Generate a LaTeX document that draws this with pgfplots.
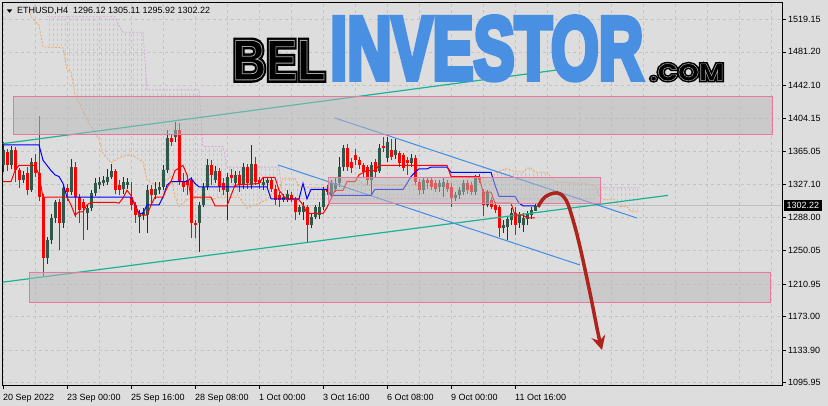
\documentclass[border=0pt]{standalone}
\usepackage{fontspec}
\setmainfont{Liberation Sans}
\newfontfamily\wmfont{Liberation Sans}
\newfontfamily\comfont{Poppins}
\usepackage{pgfplots}
\pgfplotsset{compat=1.18}
\usepackage{pgfplotstable}
\usetikzlibrary{patterns.meta,arrows.meta}

\definecolor{bg}{RGB}{221,221,221}
\definecolor{gridc}{RGB}{196,196,196}
\definecolor{bull}{RGB}{45,88,74}
\definecolor{bullwick}{RGB}{30,50,44}
\definecolor{bear}{RGB}{255,0,0}
\definecolor{tenkan}{RGB}{255,0,0}
\definecolor{kijun}{RGB}{0,0,255}
\definecolor{spanA}{RGB}{244,164,96}
\definecolor{spanB}{RGB}{214,168,214}
\definecolor{trendg}{RGB}{24,180,148}
\definecolor{chan}{RGB}{64,140,232}
\definecolor{zonefill}{RGB}{185,185,185}
\definecolor{zoneedge}{RGB}{232,120,158}
\definecolor{arrowred}{RGB}{172,36,26}
\definecolor{wmblue}{RGB}{74,144,226}
\definecolor{wmgray}{RGB}{165,165,165}
\definecolor{pricel}{RGB}{192,192,192}

% text drawn filled and stroked (heavier), or stroked only (outline)
\newcommand\heavytext[2]{\special{pdf:literal direct 2 Tr #1 w}#2\special{pdf:literal direct 0 Tr}}
\newcommand\outlinetext[2]{\special{pdf:literal direct 1 Tr #1 w}#2\special{pdf:literal direct 0 Tr}}

\tikzdeclarepattern{name=vdash, type=uncolored,
  bounding box={(0pt,0pt) and (4pt,5pt)}, tile size={(4pt,5pt)},
  code={\draw[line width=0.6pt] (2pt,0pt) -- (2pt,3pt);}}

% bullish candles: index, open, high, low, close
\pgfplotstableread{
i o h l c
0 1349 1376 1341 1367
2 1349 1372 1345 1367
5 1332 1342 1328 1338
7 1320 1358 1318 1353
11 1241 1266 1234 1262
12 1262 1292 1258 1288
13 1288 1309 1282 1306
15 1282 1327 1276 1323
17 1318 1357 1314 1347
21 1293 1303 1274 1299
22 1299 1320 1296 1317
23 1317 1334 1313 1328
24 1326 1336 1322 1330
25 1328 1337 1325 1332
26 1330 1345 1326 1336
27 1336 1351 1333 1342
30 1322 1335 1316 1330
31 1326 1334 1322 1330
34 1289 1297 1270 1293
35 1291 1299 1285 1295
36 1291 1326 1270 1320
38 1314 1330 1310 1322
39 1320 1330 1316 1324
40 1324 1349 1320 1344
41 1344 1390 1340 1381
43 1382 1400 1376 1390
49 1282 1306 1248 1303
50 1303 1328 1300 1324
51 1324 1357 1320 1349
53 1332 1348 1328 1342
56 1318 1340 1285 1336
58 1328 1342 1324 1338
60 1326 1352 1322 1347
62 1326 1373 1322 1351
65 1326 1334 1320 1330
66 1328 1336 1324 1332
70 1309 1316 1306 1312
71 1309 1320 1306 1316
74 1295 1303 1291 1300
75 1295 1306 1285 1302
77 1280 1293 1276 1289
78 1289 1303 1286 1300
79 1291 1306 1287 1300
80 1300 1324 1297 1320
82 1316 1332 1312 1328
83 1322 1334 1318 1328
84 1328 1359 1324 1347
85 1347 1373 1343 1369
92 1332 1353 1314 1349
94 1343 1374 1340 1369
96 1358 1382 1353 1376
98 1361 1380 1356 1367
102 1352 1362 1347 1358
105 1320 1336 1316 1332
109 1324 1332 1318 1328
110 1324 1334 1312 1330
113 1311 1318 1307 1314
114 1314 1324 1310 1320
115 1318 1332 1314 1328
118 1318 1338 1314 1336
121 1303 1320 1300 1318
125 1276 1285 1270 1280
126 1277 1290 1262 1286
127 1285 1299 1280 1293
129 1282 1295 1276 1291
130 1280 1293 1272 1288
131 1286 1296 1280 1292
132 1291 1300 1287 1297
133 1296.12 1305.11 1295.92 1302.22
}\bulltab

% bearish candles: index, open, high, low, close
\pgfplotstableread{
i o h l c
1 1365 1368 1343 1349
3 1367 1370 1330 1344
4 1344 1346 1323 1332
6 1340 1347 1314 1320
8 1353 1362 1336 1340
9 1340 1407 1308 1312
10 1312 1316 1219 1241
14 1306 1310 1250 1282
16 1323 1327 1308 1318
18 1347 1353 1289 1312
19 1312 1316 1282 1297
20 1306 1310 1262 1299
28 1342 1345 1316 1320
29 1326 1332 1314 1320
32 1312 1330 1297 1303
33 1303 1306 1282 1291
37 1322 1326 1303 1314
42 1381 1384 1372 1376
44 1390 1398 1326 1330
45 1330 1340 1318 1324
46 1332 1338 1314 1326
47 1332 1336 1264 1282
48 1282 1285 1264 1280
52 1349 1355 1326 1338
54 1342 1346 1318 1324
55 1328 1334 1314 1320
57 1338 1345 1328 1334
59 1338 1342 1318 1326
61 1347 1351 1322 1328
63 1351 1359 1326 1330
64 1332 1336 1322 1328
67 1332 1336 1318 1322
68 1322 1326 1303 1309
69 1314 1318 1300 1309
72 1314 1318 1306 1309
73 1309 1312 1285 1295
76 1300 1303 1260 1280
81 1322 1326 1314 1318
86 1369 1374 1343 1347
87 1353 1358 1340 1346
88 1361 1368 1350 1355
89 1355 1359 1345 1349
90 1349 1352 1336 1341
91 1347 1350 1326 1332
93 1353 1357 1336 1341
95 1372 1382 1365 1369
97 1367 1380 1355 1359
99 1363 1366 1347 1352
100 1361 1364 1343 1346
101 1355 1359 1338 1352
103 1358 1361 1326 1330
104 1330 1333 1314 1320
106 1332 1336 1322 1328
107 1332 1335 1320 1324
108 1328 1332 1318 1322
111 1328 1332 1318 1322
112 1324 1328 1300 1311
116 1328 1332 1316 1320
117 1326 1330 1314 1318
119 1336 1339 1328 1332
120 1318 1322 1290 1303
122 1309 1312 1298 1300
123 1303 1306 1294 1297
124 1300 1303 1266 1276
128 1293 1300 1268 1280
}\beartab

\begin{document}
\begin{tikzpicture}
\useasboundingbox (0pt,0pt) rectangle (828pt,406pt);
\fill[bg] (0pt,0pt) rectangle (828pt,406pt);
\begin{axis}[
  at={(2.5pt,21pt)}, anchor=south west,
  scale only axis, width=779.5pt, height=383pt,
  xmin=-0.125, xmax=194.75, ymin=1093.26, ymax=1539.30,
  axis line style={black, line width=0.8pt},
  xtick={0,16,32,48,64,80,96,112,128},
  xticklabels={20 Sep 2022, 23 Sep 00:00, 25 Sep 16:00, 28 Sep 08:00, 1 Oct 00:00, 3 Oct 16:00, 6 Oct 08:00, 9 Oct 00:00, 11 Oct 16:00},
  minor xtick={8,24,40,56,72,88,104,120,136,144,152,160,168,176,184,192},
  ytick={1095.95,1133.90,1173.00,1210.95,1250.05,1288.00,1327.10,1365.05,1404.15,1442.10,1481.20,1519.15},
  yticklabels={1095.95,1133.90,1173.00,1210.95,1250.05,1288.00,1327.10,1365.05,1404.15,1442.10,1481.20,1519.15},
  xtick pos=left, ytick pos=right, yticklabel pos=right,
  tick align=outside, major tick length=4pt, minor tick length=0pt,
  tick style={black, line width=0.6pt},
  grid=both,
  major grid style={gridc, dash pattern=on 3pt off 3pt, line width=0.6pt},
  minor grid style={gridc, dash pattern=on 3pt off 3pt, line width=0.6pt},
  xticklabel style={anchor=base west, inner sep=0pt, yshift=-12pt, font=\fontsize{9}{10}\selectfont},
  yticklabel style={anchor=west, inner sep=0pt, xshift=2pt, font=\fontsize{9}{10}\selectfont},
]
% Ichimoku cloud (hatched areas between span A and span B)
\addplot[draw=none, pattern={vdash}, pattern color=spanB] coordinates {
(11,1487) (15,1486) (16,1460) (17,1458) (18,1431) (19,1422) (21,1402) (23,1387) (24,1379) (25,1363) (27,1352) (29,1358) (31,1361) (33,1359) (35,1353) (36,1332) (38,1326) (40,1329) (42,1336) (43,1312) (44,1301) (46,1309) (48,1311) (52,1309) (54,1312) (59,1312) (61,1299) (63,1303) (66,1309) (67,1315) (69,1320) (69.5,1327)
(69.5,1328) (69,1347) (56,1347) (55,1371) (50,1371) (49,1437) (36,1437) (35,1504) (30,1504) (29,1512) (28,1522) (11,1522) (11,1487)};
\addplot[draw=none, pattern={vdash}, pattern color=spanA] coordinates {
(69.5,1327) (70,1334) (73,1334) (74,1324) (81,1323) (82,1332) (89,1332) (90,1326) (111,1326) (112,1330) (122,1330) (123,1340) (126,1346) (127,1343) (130,1341) (131,1346) (132,1346) (133,1341) (136,1341) (138,1330) (145,1328) (148,1326) (148.5,1320)
(148.5,1316.5) (148,1310) (70,1310) (69.5,1327)};
\addplot[draw=none, pattern={vdash}, pattern color=spanB] coordinates {
(148.5,1320) (149,1314) (150,1309) (153,1309) (154,1301) (156,1301) (157,1295) (159,1295)
(159,1323) (149,1323) (148.5,1316.5) (148.5,1320)};
\addplot[draw=spanA, dash pattern=on 2pt off 1.5pt, line width=0.8pt] coordinates {
(6.5,1530) (7,1522) (9,1512) (10,1487) (15,1486) (16,1460) (17,1458) (18,1431) (19,1422) (21,1402) (23,1387) (24,1379) (25,1363) (27,1352) (29,1358) (31,1361) (33,1359) (35,1353) (36,1332) (38,1326) (40,1329) (42,1336) (43,1312) (44,1301) (46,1309) (48,1311) (52,1309) (54,1312) (59,1312) (61,1299) (63,1303) (66,1309) (67,1315) (69,1320) (70,1334) (73,1334) (74,1324) (81,1323) (82,1332) (89,1332) (90,1326) (111,1326) (112,1330) (122,1330) (123,1340) (126,1346) (127,1343) (130,1341) (131,1346) (132,1346) (133,1341) (136,1341) (138,1330) (145,1328) (148,1326) (149,1314) (150,1309) (153,1309) (154,1301) (156,1301) (157,1295) (159,1295)};
\addplot[draw=spanB, dash pattern=on 2pt off 1.5pt, line width=0.8pt] coordinates {
(11,1522) (28,1522) (29,1512) (30,1504) (35,1504) (36,1437) (49,1437) (50,1371) (55,1371) (56,1347) (69,1347) (70,1310) (148,1310) (149,1323) (159,1323)};
% bid line
\addplot[pricel, line width=0.6pt] coordinates {(-1,1302.22) (196,1302.22)};
% candles: wicks then bodies
\addplot[draw=bullwick, line width=1pt, quiver={u=0, v=\thisrow{h}-\thisrow{l}}] table[x=i, y=l] {\bulltab};
\addplot[draw=bear, line width=1pt, quiver={u=0, v=\thisrow{h}-\thisrow{l}}] table[x=i, y=l] {\beartab};
\addplot[draw=bull, line width=3pt, quiver={u=0, v=\thisrow{c}-\thisrow{o}}] table[x=i, y=o] {\bulltab};
\addplot[draw=bear, line width=3pt, quiver={u=0, v=\thisrow{c}-\thisrow{o}}] table[x=i, y=o] {\beartab};
% trend lines
\addplot[trendg, line width=1.2pt] coordinates {(-0.75,1373.9) (138.5,1460.1)};
\addplot[trendg, line width=1.2pt] coordinates {(-0.75,1212.6) (166.25,1314.1)};
\addplot[chan, line width=1pt] coordinates {(83,1404.2) (158.5,1287.7)};
\addplot[chan, line width=1pt] coordinates {(68.75,1349.5) (144.25,1233.0)};
% Kijun
\addplot[kijun, line width=1pt] coordinates {
(0,1373) (9,1373) (10,1355) (11,1349) (12,1343) (13,1338) (14,1336) (15,1328) (16,1312) (32,1312) (33,1303) (34,1293) (35,1293) (36,1303) (39,1303) (40,1312) (41,1326) (42,1330) (46,1330) (47,1334) (48,1328) (49,1324) (66,1324) (67,1310) (74,1310) (75,1328) (76,1310) (77,1321) (81,1321) (82,1314) (92,1314) (93,1321) (100,1321) (101,1328) (102,1336) (103,1341) (104,1345) (106,1345) (107,1347) (111,1347) (112,1341) (122,1341) (123,1326) (124,1313) (128,1313) (129,1305) (130,1302) (133,1302)};
% Tenkan
\addplot[tenkan, line width=1pt] coordinates {
(0,1330) (2,1330) (3,1343) (4,1349) (8,1349) (9,1338) (10,1312) (16,1312) (17,1303) (18,1291) (19,1295) (20,1295) (21,1303) (22,1306) (28,1306) (29,1305) (30,1311) (31,1320) (32,1314) (33,1303) (34,1291) (36,1291) (37,1303) (38,1312) (40,1312) (41,1323) (42,1330) (43,1343) (45,1349) (46,1338) (47,1312) (52,1312) (53,1302) (56,1302) (57,1314) (58,1326) (64,1328) (65,1335) (68,1335) (69,1320) (71,1309) (74,1309) (75,1303) (76,1293) (80,1293) (81,1300) (82,1310) (83,1320) (85,1320) (86,1330) (88,1330) (89,1338) (91,1343) (93,1343) (94,1349) (111,1349) (112,1336) (119,1336) (120,1318) (122,1318) (123,1305) (127,1305) (128,1291) (130,1291) (131,1288) (133,1288)};
% zones
\addplot[fill=zonefill, fill opacity=0.5, draw=zoneedge, line width=0.8pt] coordinates {(2.5,1385.6) (192.25,1385.6) (192.25,1428.9) (2.5,1428.9) (2.5,1385.6)};
\addplot[fill=zonefill, fill opacity=0.5, draw=zoneedge, line width=0.8pt] coordinates {(6.5,1190.0) (191.75,1190.0) (191.75,1224.9) (6.5,1224.9) (6.5,1190.0)};
\addplot[fill=zonefill, fill opacity=0.5, draw=zoneedge, line width=0.8pt] coordinates {(81.25,1305.2) (149.25,1305.2) (149.25,1335.5) (81.25,1335.5) (81.25,1305.2)};
% forecast arrow
\addplot[arrowred, line width=3.5pt, smooth, tension=0.6, -{Stealth[length=14pt, width=14pt]}] coordinates {
(133.75,1300.6) (135.5,1312.2) (138.5,1316.9) (140.75,1308.7) (142.5,1285.4) (144.25,1254.0) (146.75,1200.4) (148.75,1153.8) (149.75,1134.0)};
\end{axis}
% watermark: BEL (black with inner grey outline)
\node[anchor=south west, inner sep=0pt, text=black] at (232.3pt,325.9pt) {\resizebox{93pt}{39.5pt}{\wmfont\bfseries\heavytext{1.0}{BEL}}};
\node[anchor=south west, inner sep=0pt, text=wmgray] at (232.3pt,325.9pt) {\resizebox{93pt}{39.5pt}{\wmfont\bfseries\outlinetext{0.15}{BEL}}};
% INVESTOR (heavy blue)
\node[anchor=south west, inner sep=0pt, text=wmblue] at (330pt,326pt) {\resizebox{313pt}{62pt}{\wmfont\bfseries\heavytext{0.65}{INVESTOR}}};
% .COM (black with inner grey outline)
\node[anchor=south west, inner sep=0pt, text=black] at (649.6pt,324.9pt) {\resizebox{74pt}{17.2pt}{\comfont\bfseries\heavytext{1.4}{.COM}}};
\node[anchor=south west, inner sep=0pt, text=wmgray] at (649.6pt,324.9pt) {\resizebox{74pt}{17.2pt}{\comfont\bfseries\outlinetext{0.2}{.COM}}};
% header
\fill[black] (6.7pt,396.7pt) -- (12.3pt,396.7pt) -- (9.5pt,393.2pt) -- cycle;
\node[anchor=base west, inner sep=0pt, font=\fontsize{9}{10}\selectfont] at (17pt,392pt) {ETHUSD,H4\hspace{5pt}1296.12 1305.11 1295.92 1302.22};
% current price label
\node[fill=black, text=white, inner xsep=2.5pt, inner ysep=2.3pt, anchor=west, font=\fontsize{9}{10}\selectfont] at (784pt,200.5pt) {1302.22};
\end{tikzpicture}
\end{document}
